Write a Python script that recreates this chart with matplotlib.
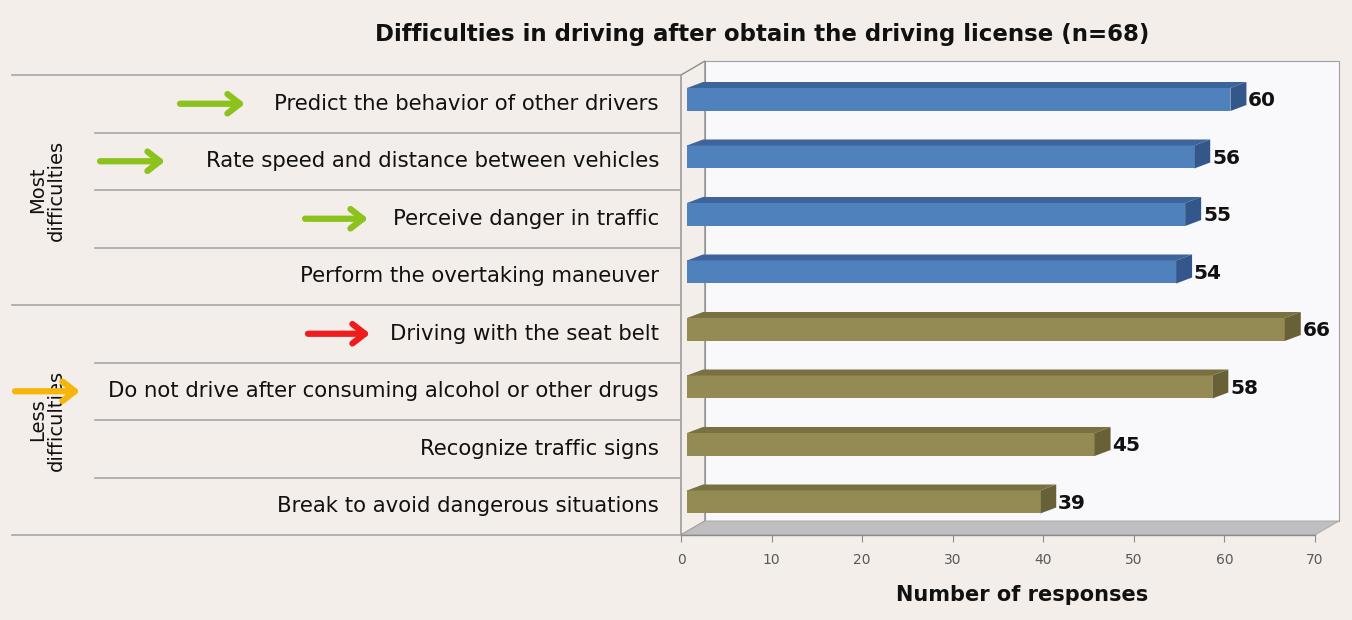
import matplotlib
matplotlib.use("Agg")
import matplotlib.pyplot as plt
from matplotlib.patches import Rectangle, Polygon
from matplotlib.transforms import blended_transform_factory

# survey answers, top row first
categories = [
    "Predict the behavior of other drivers",
    "Rate speed and distance between vehicles",
    "Perceive danger in traffic",
    "Perform the overtaking maneuver",
    "Driving with the seat belt",
    "Do not drive after consuming alcohol or other drugs",
    "Recognize traffic signs",
    "Break to avoid dangerous situations",
]
responses = [60, 56, 55, 54, 66, 58, 45, 39]
groups = ["Most\ndifficulties", "Less\ndifficulties"]
group_of = [0, 0, 0, 0, 1, 1, 1, 1]
x_ticks = [0, 10, 20, 30, 40, 50, 60, 70]

# colours for the two groups: front, top, side
group_colors = [
    ("#4f81bd", "#3d659b", "#33578a"),
    ("#948a54", "#7a7143", "#686037"),
]
bg = "#f3eee9"

W, H = 1352, 620
fig = plt.figure(figsize=(W / 100, H / 100), dpi=100, facecolor=bg)

# axes covers the front plane of the 3d box
left_px, right_px, top_px, bot_px = 681, 1315, 75, 535
ax = fig.add_axes([left_px / W, 1 - bot_px / H,
                   (right_px - left_px) / W, (bot_px - top_px) / H])
ax.set_xlim(0, 70)
ax.set_ylim(8, 0)
ax.set_facecolor("none")
for s in ax.spines.values():
    s.set_visible(False)

px_x = (right_px - left_px) / 70.0
px_y = (bot_px - top_px) / 8.0
DX, DY = 24 / px_x, -14 / px_y          # wall depth
SX, SY = 6 / px_x, -3.5 / px_y          # bars sit a bit behind the front plane
BX, BY = 16 / px_x, -6 / px_y           # bar depth

# back wall, side wall, floor
ax.add_patch(Rectangle((DX, DY), 70, 8, facecolor="#f9f8fa", edgecolor="#a0a0a0",
                       lw=0.8, clip_on=False, zorder=0))
ax.add_patch(Polygon([(0, 0), (DX, DY), (DX, 8 + DY), (0, 8)], closed=True,
                     facecolor=bg, edgecolor="#8c8c8c", lw=1.0, clip_on=False, zorder=1))
ax.add_patch(Polygon([(0, 8), (70, 8), (70 + DX, 8 + DY), (DX, 8 + DY)], closed=True,
                     facecolor="#bfbfc1", edgecolor="#a6a6a6", lw=0.6, clip_on=False, zorder=1))

# bars
for i, v in enumerate(responses):
    front, top, side = group_colors[group_of[i]]
    y0 = i + 0.5 - 0.274
    h = 0.4
    x0, x1 = SX, v + SX
    ax.add_patch(Rectangle((x0, y0), v, h, facecolor=front, edgecolor="none",
                           clip_on=False, zorder=3))
    ax.add_patch(Polygon([(x0, y0), (x1, y0), (x1 + BX, y0 + BY), (x0 + BX, y0 + BY)],
                         closed=True, facecolor=top, edgecolor="none", clip_on=False, zorder=3))
    ax.add_patch(Polygon([(x1, y0), (x1 + BX, y0 + BY), (x1 + BX, y0 + h + BY), (x1, y0 + h)],
                         closed=True, facecolor=side, edgecolor="none", clip_on=False, zorder=3))
    ax.text(x1 + BX + 0.2, y0 + h / 2 + 0.02, str(v), ha="left", va="center",
            fontsize=14.5, fontweight="bold", color="#111111", zorder=4)

# x axis along the front edge of the floor
ax.set_xticks(x_ticks)
ax.set_xticklabels([str(t) for t in x_ticks])
ax.tick_params(axis="x", direction="out", length=5, color="#8c8c8c",
               labelsize=10, labelcolor="#595959", pad=8)
ax.set_yticks([])
ax.plot([0, 70], [8, 8], color="#8c8c8c", lw=1.0, clip_on=False, zorder=2)
fig.text(1022 / W, 1 - 595 / H, "Number of responses", ha="center", va="center",
         fontsize=15, fontweight="bold", color="#111111")

# table of categories on the left
tr = blended_transform_factory(fig.transFigure, ax.transData)
for b in range(9):
    x_start = 12 if b in (0, 4, 8) else 95
    ax.plot([x_start / W, 680 / W], [b, b], transform=tr, color="#a6a6a6",
            lw=1.2, clip_on=False, zorder=1)
for i, lab in enumerate(categories):
    ax.text(659 / W, i + 0.5, lab, transform=tr, ha="right", va="center",
            fontsize=15.3, color="#111111")
for g, lab in enumerate(groups):
    ax.text(47 / W, g * 4 + 2, lab, transform=tr, ha="center", va="center",
            rotation=90, fontsize=14, color="#111111", linespacing=1.0)

# highlight arrows
arrows = [
    (0, 180, 245, "#8cc21c"),
    (1, 100, 165, "#8cc21c"),
    (2, 305, 368, "#8cc21c"),
    (4, 308, 370, "#ee1c1c"),
    (5, 15, 80, "#f5b50a"),
]
for row, xa, xb, col in arrows:
    ax.annotate("", xy=(xb / W, row + 0.5), xytext=(xa / W, row + 0.5),
                xycoords=tr, textcoords=tr, annotation_clip=False,
                arrowprops=dict(arrowstyle="->,head_length=0.9,head_width=0.7",
                                color=col, lw=4.5, shrinkA=0, shrinkB=0),
                zorder=5)

fig.text(762 / W, 1 - 35 / H, "Difficulties in driving after obtain the driving license (n=68)",
         ha="center", va="center", fontsize=16.5, fontweight="bold", color="#111111")

fig.savefig("out.png", dpi=100, facecolor=bg)
